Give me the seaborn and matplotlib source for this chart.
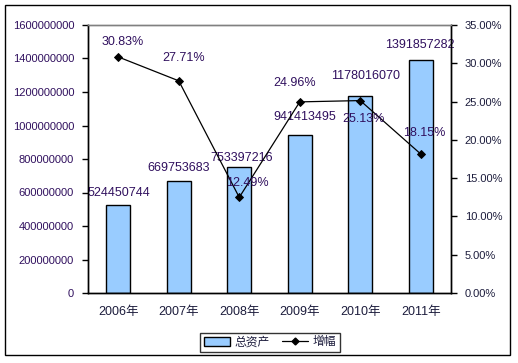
import matplotlib
matplotlib.use("Agg")
import matplotlib.pyplot as plt
import seaborn as sns
import pandas as pd
from matplotlib.patches import Rectangle
from matplotlib.lines import Line2D
from matplotlib.ticker import FuncFormatter, MultipleLocator

# data
years = ["2006年", "2007年", "2008年", "2009年", "2010年", "2011年"]
total_assets = [524450744, 669753683, 753397216, 941413495, 1178016070, 1391857282]
growth_pct = [30.83, 27.71, 12.49, 24.96, 25.13, 18.15]

# label offsets in pixels (dx, dy), only for placing the text
bar_label_offsets = [(1, 12), (0, 13), (2, 9), (5, 18), (5, 20), (-1, 15)]
line_label_offsets = [(4, 15), (5, 23), (8, 14), (-5, 19), (3, -18), (3, 21)]

sns.set_style("white")
plt.rcParams["font.family"] = ["Liberation Sans", "Noto Sans CJK SC", "DejaVu Sans"]

df = pd.DataFrame({"year": years, "assets": total_assets, "growth": [g / 100 for g in growth_pct]})

fig = plt.figure(figsize=(5.18, 3.63), dpi=100)
ax = fig.add_axes([88 / 518, 1 - 293 / 363, (451 - 88) / 518, (293 - 25) / 363])
ax2 = ax.twinx()

label_color = "#30105e"
tick_color = "#1c1c3c"

# bars
sns.barplot(data=df, x="year", y="assets", ax=ax, color="#99ccff", saturation=1,
            width=0.4, edgecolor="black", linewidth=1)

# growth line
sns.pointplot(data=df, x="year", y="growth", ax=ax2, color="black", markers="D",
              linestyles="-", linewidth=0.9, markersize=4)

ax.set_ylim(0, 1.6e9)
ax.yaxis.set_major_locator(MultipleLocator(2e8))
ax.yaxis.set_major_formatter(FuncFormatter(lambda v, p: f"{int(v)}"))
ax2.set_ylim(0, 0.35)
ax2.yaxis.set_major_locator(MultipleLocator(0.05))
ax2.yaxis.set_major_formatter(FuncFormatter(lambda v, p: f"{v * 100:.2f}%"))
ax.set_xlim(-0.5, len(years) - 0.5)

ax.set_xlabel("")
ax.set_ylabel("")
ax2.set_ylabel("")

for a in (ax, ax2):
    for s in a.spines.values():
        s.set_color("black")
        s.set_linewidth(1)
    a.spines["top"].set_color("#808080")

ax.tick_params(axis="y", direction="out", length=4, width=1, color="black",
               labelsize=8, labelcolor=label_color, pad=6)
ax2.tick_params(axis="y", direction="out", length=4, width=1, color="black",
                labelsize=8, labelcolor=tick_color, pad=6)
ax.tick_params(axis="x", length=0, labelsize=9, labelcolor=tick_color, pad=9)
ax.set_xticks([i + 0.5 for i in range(len(years) - 1)], minor=True)
ax.tick_params(axis="x", which="minor", direction="in", length=4, width=1, color="black")
ax.grid(False)
ax2.grid(False)

# bar value labels
for i, (v, off) in enumerate(zip(total_assets, bar_label_offsets)):
    ax.annotate(f"{v}", (i, v), xytext=off, textcoords="offset pixels",
                ha="center", va="center", fontsize=9, color=label_color)

# growth labels
for i, (g, off) in enumerate(zip(growth_pct, line_label_offsets)):
    ax2.annotate(f"{g:.2f}%", (i, g / 100), xytext=off, textcoords="offset pixels",
                 ha="center", va="center", fontsize=9, color=label_color)

# outer chart border
fig.patches.append(Rectangle((5 / 518, 1 - 355 / 363), 505 / 518, 350 / 363,
                             transform=fig.transFigure, fill=False,
                             edgecolor="black", linewidth=1))

handles = [Rectangle((0, 0), 1, 1, facecolor="#99ccff", edgecolor="black", linewidth=1),
           Line2D([0], [0], color="black", marker="D", markersize=3.5, linewidth=0.9)]
leg = fig.legend(handles, ["总资产", "增幅"], loc="center", bbox_to_anchor=(270 / 518, 1 - 342.5 / 363),
                 ncol=2, frameon=True, fancybox=False, fontsize=8.5, handlelength=2.2,
                 handletextpad=0.4, columnspacing=1.0, borderpad=0.3, labelcolor=tick_color)
leg.get_frame().set_edgecolor("black")
leg.get_frame().set_linewidth(1)

fig.savefig("out.png", dpi=100)
